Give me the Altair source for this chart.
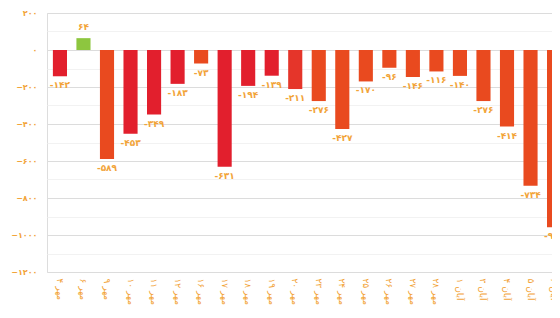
import altair as alt
import pandas as pd

categories = ["۴ مهر", "۶ مهر", "۹ مهر", "۱۰ مهر", "۱۱ مهر", "۱۲ مهر", "۱۶ مهر", "۱۷ مهر",
              "۱۸ مهر", "۱۹ مهر", "۲۰ مهر", "۲۳ مهر", "۲۴ مهر", "۲۵ مهر", "۲۶ مهر", "۲۷ مهر",
              "۲۸ مهر", "۱ آبان", "۳ آبان", "۴ آبان", "۵ آبان", "۶ آبان"]
values = [-142, 64, -589, -453, -349, -183, -73, -631, -194, -139, -211, -276, -427,
          -170, -96, -146, -116, -140, -276, -414, -734, -958]
tones = ["red", "green", "orange", "red", "red", "red", "orange", "red", "red", "red",
         "mid", "orange", "orange", "orange", "orange", "orange", "orange", "orange",
         "orange", "orange", "orange", "orange"]
y_ticks = [200, 100, 0, -100, -200, -300, -400, -500, -600, -700, -800, -900, -1000, -1100, -1200]

digits = str.maketrans("0123456789", "۰۱۲۳۴۵۶۷۸۹")
df = pd.DataFrame({
    "cat": categories,
    "value": values,
    "tone": tones,
    "label": [str(v).translate(digits) for v in values],
})

amber = "#F2A43A"
fa_expr = "format(datum.value, 'd')"
for d, p in zip("0123456789", "۰۱۲۳۴۵۶۷۸۹"):
    fa_expr = f"replace({fa_expr}, regexp('{d}', 'g'), '{p}')"
fa_expr = f"datum.value % 200 == 0 ? {fa_expr} : ''"

x_scale = alt.Scale(paddingInner=0.4, paddingOuter=0.25, range=[0, 520])
y_scale = alt.Scale(domain=[-1200, 200], nice=False)

x_axis = alt.Axis(title=None, labelAngle=90, labelColor=amber, labelFontSize=9,
                  labelFont="DejaVu Sans", domain=False, ticks=False,
                  labelPadding=6, grid=False, labelOverlap=False)
y_axis = alt.Axis(title=None, values=y_ticks, labelExpr=fa_expr, labelColor=amber,
                  labelFontSize=8, labelFontWeight="bold", labelFont="DejaVu Sans",
                  domain=False, ticks=False, labelPadding=10, labelOverlap=False,
                  gridColor={"condition": {"test": "datum.value % 200 == 0", "value": "#dcdcdc"},
                             "value": "#f2f2f2"})

x_enc = alt.X("cat:N", sort=categories, scale=x_scale, axis=x_axis)
y_enc = alt.Y("value:Q", scale=y_scale, axis=y_axis)

bars = alt.Chart(df).mark_bar().encode(
    x=x_enc,
    y=y_enc,
    y2=alt.datum(0),
    color=alt.Color("tone:N", legend=None,
                    scale=alt.Scale(domain=["red", "green", "orange", "mid"],
                                    range=["#E21F2D", "#8DC63F", "#E94A1F", "#E5352A"])),
)

labels_neg = alt.Chart(df).transform_filter("datum.value < 0").mark_text(
    color=amber, fontSize=9, fontWeight="bold", font="DejaVu Sans", baseline="top", dy=5
).encode(x=x_enc, y=y_enc, text="label:N")

labels_pos = alt.Chart(df).transform_filter("datum.value >= 0").mark_text(
    color=amber, fontSize=9, fontWeight="bold", font="DejaVu Sans", baseline="bottom", dy=-6
).encode(x=x_enc, y=y_enc, text="label:N")

chart = alt.layer(bars, labels_neg, labels_pos).properties(
    width=505, height=259,
    autosize=alt.AutoSizeParams(type="none"),
    padding={"left": 39, "top": 5, "right": 0, "bottom": 36},
).configure_view(stroke="transparent", strokeWidth=0).configure_axis(
    domain=False).configure(background="white")

chart.save("out.html", embed_options={"renderer": "svg", "actions": False})
